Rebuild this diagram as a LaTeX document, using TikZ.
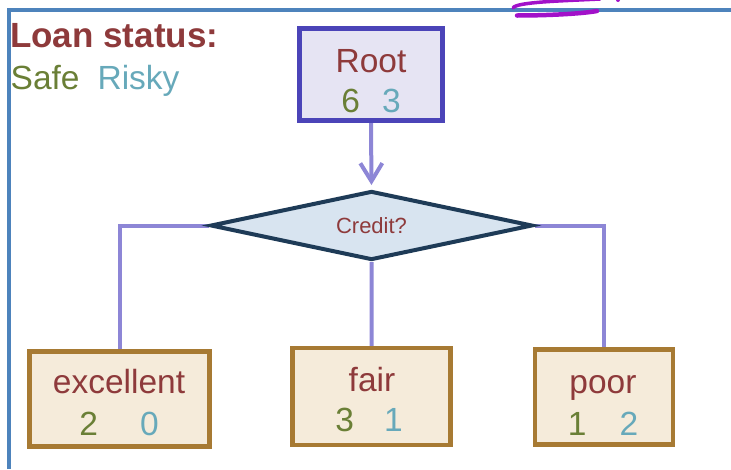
\documentclass[tikz,border=0pt]{standalone}
\usepackage{fontspec}
\setmainfont{Liberation Sans}
\usetikzlibrary{shapes.geometric,arrows.meta}
\pgfdeclarelayer{back}
\pgfsetlayers{back,main}

\definecolor{labelred}{HTML}{8E3A3B}
\definecolor{safegreen}{HTML}{6A7F36}
\definecolor{riskyteal}{HTML}{67A9BA}
\definecolor{rootedge}{HTML}{4B44B8}
\definecolor{rootfill}{HTML}{E6E4F3}
\definecolor{splitedge}{HTML}{1E3B57}
\definecolor{splitfill}{HTML}{D8E4F0}
\definecolor{leafedge}{HTML}{A77A33}
\definecolor{leaffill}{HTML}{F5EBDA}
\definecolor{linkcol}{HTML}{8D86D6}
\definecolor{framecol}{HTML}{4D83BC}
\definecolor{inkcol}{HTML}{A211C9}

\newcommand{\counts}[3]{\textcolor{safegreen}{#1}\hspace{#3}\textcolor{riskyteal}{#2}}

\begin{document}
\begin{tikzpicture}[x=1pt,y=-1pt,
  bigtext/.style={font=\fontsize{33.5}{40}\selectfont, inner sep=0pt, anchor=base},
  wordtext/.style={bigtext, text=labelred},
  rootbox/.style={draw=rootedge, fill=rootfill, line width=4.5pt, rectangle,
    minimum width=143pt, minimum height=92pt, inner sep=0pt},
  leafbox/.style={draw=leafedge, fill=leaffill, line width=4.5pt, rectangle, inner sep=0pt},
  splitbox/.style={diamond, draw=splitedge, fill=splitfill, line width=4pt,
    aspect=4.4, inner sep=0pt, text=labelred, font=\fontsize{22}{26}\selectfont},
  link/.style={draw=linkcol, line width=4pt},
]
\useasboundingbox (0,0) rectangle (731,469);

% frame
\draw[framecol, line width=3.5pt] (9,469) -- (9,10) -- (731,10);

% ink marks above the frame
\draw[inkcol, line width=4.5pt, line cap=round] (517,15.5) .. controls (545,15.5) and (580,14) .. (597,11);
\draw[inkcol, line width=3.5pt, line cap=round] (513,8) .. controls (516,2) and (560,1) .. (600,-1);
\fill[inkcol] (618,0) circle (2pt);

% legend
\node[bigtext, anchor=base west, font=\bfseries\fontsize{35}{40}\selectfont, text=labelred] (legtitle) at (10,47.3) {Loan status:};
\node[bigtext, anchor=base west] (legkeys) at (10.5,89) {\textcolor{safegreen}{Safe}\hspace{18pt}\textcolor{riskyteal}{Risky}};

% root
\node[rootbox] (root) at (371,74.5) {};
\node[wordtext] (rootname) at (371,72) {Root};
\node[bigtext] (rootcount) at (371,112) {\counts{6}{3}{22pt}};

% split
\node[splitbox, minimum width=322pt, minimum height=69pt] (credit) at (371.5,225.5) {Credit?};

% leaves
\node[leafbox, minimum width=180pt, minimum height=95pt] (exc) at (119.5,398.8) {};
\node[wordtext] (excname) at (119,393) {excellent};
\node[bigtext] (exccount) at (119,435) {\counts{2}{0}{42pt}};

\node[leafbox, minimum width=158pt, minimum height=97pt] (fair) at (371.7,396.7) {};
\node[wordtext] (fairname) at (372,391.7) {fair};
\node[bigtext] (faircount) at (369,431.7) {\counts{3}{1}{30pt}};

\node[leafbox, minimum width=138pt, minimum height=95pt] (poor) at (603.8,397) {};
\node[wordtext] (poorname) at (603,393) {poor};
\node[bigtext] (poorcount) at (603,435) {\counts{1}{2}{33pt}};

% connectors
\begin{pgfonlayer}{back}
\draw[link, -{Straight Barb[length=18pt, width=22pt]}, shorten >=4pt] (root.south) -- (credit.north);
\draw[link] (credit.west) -| (exc.north);
\draw[link] (credit.east) -| (poor.north);
\draw[link] (credit.south) -- (fair.north);
\end{pgfonlayer}
\end{tikzpicture}
\end{document}
